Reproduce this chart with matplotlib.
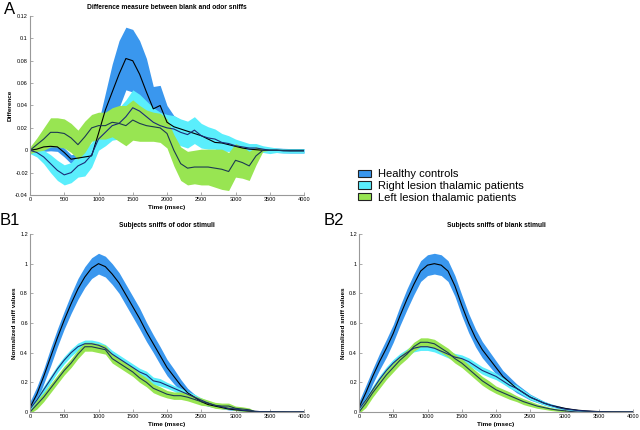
import matplotlib
matplotlib.use('Agg')
import matplotlib.pyplot as plt
from matplotlib.patches import Patch
import numpy as np

plt.rcParams['font.family'] = ['Liberation Sans', 'DejaVu Sans']

# time axis (msec), one value every 100 ms
time_ms = np.arange(0, 4001, 100)

# ---- panel A: difference blank - odor ----
diff_healthy = [0, 0.001, 0.003, 0.0035, 0.003, -0.002, -0.008, -0.007, -0.006, -0.005,
                0.015, 0.036, 0.052, 0.068, 0.082, 0.080, 0.068, 0.052, 0.037, 0.040,
                0.025, 0.021, 0.019, 0.017, 0.015, 0.013, 0.010, 0.007, 0.0065, 0.005,
                0.0035, 0.002, 0.001, 0.0005, 0, 0, 0, -0.0003, -0.0005, -0.0005, -0.0005]
diff_healthy_sem = [0.002, 0.003, 0.004, 0.004, 0.004, 0.004, 0.004, 0.004, 0.004, 0.005,
                    0.01, 0.015, 0.025, 0.03, 0.028, 0.028, 0.03, 0.03, 0.02, 0.018,
                    0.015, 0.01, 0.008, 0.006, 0.005, 0.004, 0.004, 0.004, 0.004, 0.003,
                    0.003, 0.003, 0.003, 0.002, 0.002, 0.002, 0.002, 0.002, 0.002, 0.002, 0.002]
diff_right = [0, -0.002, -0.006, -0.012, -0.018, -0.022, -0.020, -0.014, -0.011, -0.004,
              0.010, 0.016, 0.022, 0.024, 0.030, 0.038, 0.035, 0.030, 0.025, 0.022,
              0.020, 0.019, 0.016, 0.014, 0.018, 0.013, 0.011, 0.010, 0.007, 0.006,
              0.004, 0.003, 0.002, 0.002, 0.001, 0, 0, -0.0005, -0.0005, -0.0005, -0.0005]
diff_right_sem = [0.003, 0.004, 0.006, 0.008, 0.009, 0.009, 0.009, 0.010, 0.012, 0.011,
                  0.010, 0.012, 0.013, 0.014, 0.015, 0.016, 0.015, 0.014, 0.013, 0.012,
                  0.012, 0.012, 0.012, 0.012, 0.012, 0.011, 0.010, 0.009, 0.008, 0.007,
                  0.006, 0.005, 0.004, 0.004, 0.003, 0.003, 0.002, 0.002, 0.002, 0.002, 0.002]
diff_left = [0, 0.005, 0.010, 0.016, 0.016, 0.015, 0.011, 0.005, 0.012, 0.020,
             0.022, 0.022, 0.025, 0.024, 0.022, 0.027, 0.024, 0.022, 0.021, 0.020,
             0.015, 0.000, -0.012, -0.016, -0.015, -0.015, -0.015, -0.016, -0.017, -0.019,
             -0.009, -0.011, -0.014, -0.005, 0, 0, 0, 0, 0, 0, 0]
diff_left_sem = [0.003, 0.006, 0.010, 0.013, 0.013, 0.013, 0.013, 0.013, 0.014, 0.012,
                 0.012, 0.012, 0.013, 0.016, 0.018, 0.018, 0.016, 0.014, 0.013, 0.013,
                 0.013, 0.014, 0.015, 0.015, 0.015, 0.016, 0.016, 0.017, 0.018, 0.017,
                 0.015, 0.014, 0.013, 0.008, 0.001, 0, 0, 0, 0, 0, 0]

# ---- panel B1: sniffs of odor stimuli ----
odor_healthy = [0.03, 0.12, 0.24, 0.37, 0.50, 0.62, 0.73, 0.83, 0.91, 0.97,
                1.00, 0.98, 0.93, 0.87, 0.79, 0.71, 0.63, 0.54, 0.46, 0.38,
                0.30, 0.24, 0.18, 0.13, 0.10, 0.07, 0.05, 0.04, 0.03, 0.02,
                0.015, 0.01, 0.006, 0.004, 0.002, 0.002, 0.001, 0.001, 0, 0, 0]
odor_healthy_sem = [0.04, 0.05, 0.05, 0.06, 0.06, 0.06, 0.065, 0.07, 0.07, 0.07,
                    0.07, 0.07, 0.07, 0.07, 0.07, 0.07, 0.07, 0.065, 0.06, 0.06,
                    0.055, 0.05, 0.04, 0.03, 0.02, 0.015, 0.012, 0.01, 0.008, 0.006,
                    0.005, 0.004, 0.004, 0.003, 0.003, 0.003, 0.002, 0.002, 0.002, 0.002, 0.002]
odor_right = [0.02, 0.08, 0.15, 0.22, 0.29, 0.35, 0.40, 0.44, 0.46, 0.46,
              0.45, 0.43, 0.39, 0.36, 0.33, 0.30, 0.27, 0.25, 0.21, 0.20,
              0.18, 0.16, 0.14, 0.12, 0.10, 0.08, 0.06, 0.045, 0.035, 0.025,
              0.02, 0.012, 0.008, 0.004, 0.002, 0.001, 0, 0, 0, 0, 0]
odor_right_sem = [0.01, 0.02, 0.025, 0.025, 0.025, 0.025, 0.025, 0.025, 0.025, 0.025,
                  0.025, 0.025, 0.025, 0.025, 0.025, 0.025, 0.025, 0.025, 0.025, 0.025,
                  0.02, 0.02, 0.02, 0.02, 0.02, 0.015, 0.015, 0.012, 0.01, 0.008,
                  0.006, 0.005, 0.004, 0.003, 0.002, 0.002, 0.002, 0.002, 0.002, 0.002, 0.002]
odor_left = [0, 0.05, 0.10, 0.16, 0.22, 0.28, 0.33, 0.39, 0.44, 0.44,
             0.43, 0.42, 0.36, 0.33, 0.30, 0.27, 0.23, 0.20, 0.16, 0.14,
             0.12, 0.11, 0.11, 0.10, 0.085, 0.07, 0.06, 0.045, 0.04, 0.04,
             0.025, 0.02, 0.015, 0, 0, 0, 0, 0, 0, 0, 0]
odor_left_sem = [0.01, 0.03, 0.03, 0.03, 0.03, 0.03, 0.03, 0.03, 0.03, 0.03,
                 0.03, 0.03, 0.03, 0.03, 0.03, 0.03, 0.03, 0.03, 0.03, 0.03,
                 0.025, 0.025, 0.025, 0.025, 0.025, 0.025, 0.02, 0.02, 0.02, 0.02,
                 0.015, 0.015, 0.012, 0.003, 0, 0, 0, 0, 0, 0, 0]

# ---- panel B2: sniffs of blank stimuli ----
blank_healthy = [0.03, 0.13, 0.24, 0.34, 0.43, 0.53, 0.65, 0.76, 0.86, 0.95,
                 0.99, 1.00, 0.99, 0.95, 0.85, 0.72, 0.60, 0.50, 0.42, 0.36,
                 0.30, 0.24, 0.20, 0.16, 0.13, 0.10, 0.08, 0.06, 0.045, 0.035,
                 0.025, 0.018, 0.012, 0.008, 0.005, 0.003, 0.002, 0.001, 0.001, 0, 0]
blank_healthy_sem = [0.04, 0.05, 0.05, 0.055, 0.06, 0.06, 0.065, 0.07, 0.07, 0.07,
                     0.07, 0.07, 0.07, 0.07, 0.07, 0.07, 0.065, 0.06, 0.055, 0.05,
                     0.045, 0.04, 0.035, 0.03, 0.025, 0.02, 0.016, 0.012, 0.01, 0.008,
                     0.006, 0.005, 0.004, 0.003, 0.003, 0.003, 0.002, 0.002, 0.002, 0.002, 0.002]
blank_right = [0.02, 0.08, 0.15, 0.22, 0.28, 0.33, 0.37, 0.40, 0.43, 0.44,
               0.44, 0.43, 0.41, 0.39, 0.37, 0.36, 0.34, 0.31, 0.28, 0.26,
               0.24, 0.21, 0.18, 0.16, 0.13, 0.10, 0.08, 0.06, 0.045, 0.03,
               0.02, 0.015, 0.01, 0.007, 0.004, 0.002, 0.001, 0, 0, 0, 0]
blank_right_sem = [0.01, 0.02, 0.025, 0.025, 0.025, 0.025, 0.025, 0.025, 0.025, 0.025,
                   0.025, 0.025, 0.025, 0.025, 0.025, 0.025, 0.025, 0.025, 0.025, 0.025,
                   0.022, 0.02, 0.02, 0.02, 0.018, 0.016, 0.014, 0.012, 0.01, 0.008,
                   0.006, 0.005, 0.004, 0.003, 0.002, 0.002, 0.002, 0.002, 0.002, 0.002, 0.002]
blank_left = [0, 0.06, 0.13, 0.19, 0.25, 0.30, 0.35, 0.39, 0.44, 0.47,
              0.47, 0.46, 0.43, 0.40, 0.36, 0.33, 0.29, 0.25, 0.21, 0.18,
              0.15, 0.13, 0.11, 0.09, 0.07, 0.055, 0.04, 0.03, 0.02, 0.013,
              0.008, 0.003, 0, 0, 0, 0, 0, 0, 0, 0, 0]
blank_left_sem = [0.01, 0.03, 0.03, 0.03, 0.03, 0.03, 0.03, 0.03, 0.03, 0.03,
                  0.03, 0.03, 0.03, 0.03, 0.03, 0.03, 0.03, 0.03, 0.03, 0.03,
                  0.025, 0.025, 0.025, 0.02, 0.02, 0.018, 0.015, 0.012, 0.01, 0.008,
                  0.006, 0.003, 0, 0, 0, 0, 0, 0, 0, 0, 0]

group_names = ['Healthy controls', 'Right lesion thalamic patients', 'Left lesion thalamic patients']
fill_colors = ['#3a97ee', '#5aeefc', '#98e552']
line_colors = ['#000000', '#1b2c78', '#1c3a52']

x_ticks = [0, 500, 1000, 1500, 2000, 2500, 3000, 3500, 4000]


def draw_panel(ax, series, title, ylabel, yticks, yticklabels, ylim):
    # fills first, then the mean lines on top
    for (mean, sem), fc in zip(series, fill_colors):
        m = np.array(mean)
        s = np.array(sem)
        ax.fill_between(time_ms, m - s, m + s, color=fc, linewidth=0)
    for (mean, sem), lc in zip(series, line_colors):
        ax.plot(time_ms, mean, color=lc, linewidth=0.8)
    ax.set_xlim(0, 4000)
    ax.set_ylim(*ylim)
    ax.set_xticks(x_ticks)
    ax.set_xticklabels([str(t) for t in x_ticks])
    ax.set_yticks(yticks)
    ax.set_yticklabels(yticklabels)
    ax.tick_params(labelsize=4, length=2, width=0.5, direction='in',
                   colors='#888888', labelcolor='black', pad=1.5)
    for side in ['top', 'right']:
        ax.spines[side].set_visible(False)
    for side in ['left', 'bottom']:
        ax.spines[side].set_color('#999999')
        ax.spines[side].set_linewidth(0.8)
    ax.set_title(title, fontsize=4.8, fontweight='bold', pad=5)
    ax.set_xlabel('Time (msec)', fontsize=4.6, fontweight='bold', labelpad=2)
    ax.set_ylabel(ylabel, fontsize=4.6, fontweight='bold', labelpad=2)


fig = plt.figure(figsize=(6.4, 4.3), dpi=100)

ax_a = fig.add_axes([30 / 640, 1 - 195 / 430, 274 / 640, 179 / 430])
draw_panel(ax_a,
           [(diff_healthy, diff_healthy_sem), (diff_right, diff_right_sem), (diff_left, diff_left_sem)],
           'Difference measure between blank and odor sniffs', 'Difference',
           [-0.04, -0.02, 0, 0.02, 0.04, 0.06, 0.08, 0.1, 0.12],
           ['-0.04', '-0.02', '0', '0.02', '0.04', '0.06', '0.08', '0.1', '0.12'],
           (-0.04, 0.12))

b_ticks = [0, 0.2, 0.4, 0.6, 0.8, 1, 1.2]
b_labels = ['0', '0.2', '0.4', '0.6', '0.8', '1', '1.2']

ax_b1 = fig.add_axes([30 / 640, 1 - 412 / 430, 274 / 640, 178 / 430])
draw_panel(ax_b1,
           [(odor_healthy, odor_healthy_sem), (odor_right, odor_right_sem), (odor_left, odor_left_sem)],
           'Subjects sniffs of odor stimuli', 'Normalized sniff values',
           b_ticks, b_labels, (0, 1.2))

ax_b2 = fig.add_axes([359 / 640, 1 - 412 / 430, 274 / 640, 178 / 430])
draw_panel(ax_b2,
           [(blank_healthy, blank_healthy_sem), (blank_right, blank_right_sem), (blank_left, blank_left_sem)],
           'Subjects sniffs of blank stimuli', 'Normalized sniff values',
           b_ticks, b_labels, (0, 1.2))

# panel letters
fig.text(4 / 640, 1 - 9 / 430, 'A', fontsize=12, va='center', ha='left')
fig.text(0 / 640, 1 - 221 / 430, 'B1', fontsize=12, va='center', ha='left')
fig.text(324 / 640, 1 - 221 / 430, 'B2', fontsize=12, va='center', ha='left')

handles = [Patch(facecolor=fc, edgecolor='#222222', linewidth=0.8) for fc in fill_colors]
fig.legend(handles, group_names, loc='center left', bbox_to_anchor=(352 / 640, 1 - 186 / 430),
           frameon=False, fontsize=8, handlelength=1.25, handleheight=0.65,
           handletextpad=0.6, labelspacing=0.15, borderpad=0)

fig.savefig('out.png', dpi=100)
plt.close(fig)
